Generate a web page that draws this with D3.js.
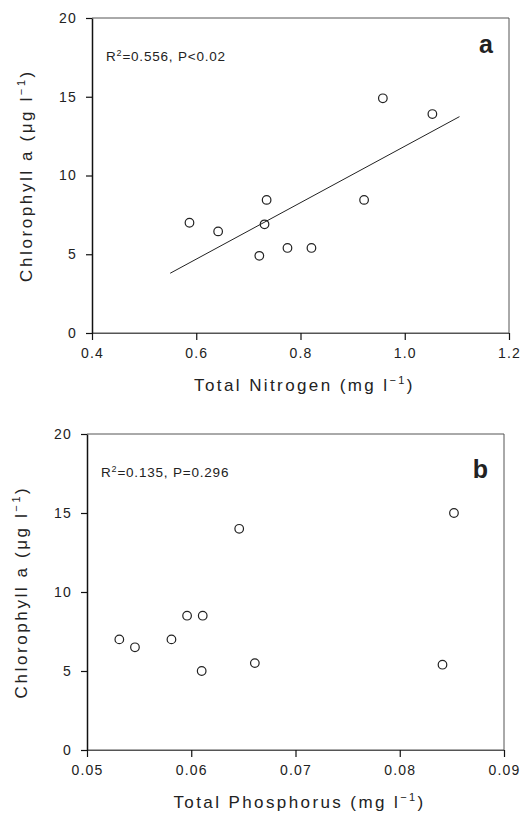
<!DOCTYPE html>
<html>
<head>
<meta charset="utf-8">
<script src="https://cdn.jsdelivr.net/npm/d3@7"></script>
<style>
  body { margin: 0; background: #fff; }
  svg text { font-family: "Liberation Sans", Arial, sans-serif; fill: #222; }
</style>
</head>
<body>
<svg id="chart" width="523" height="820"></svg>
<script>
// chlorophyll a (ug/l) per site, same sites in both panels
chlN = [7.0, 6.45, 4.9, 6.9, 8.45, 5.4, 5.4, 8.45, 14.9, 13.9];
totalN = [0.587, 0.642, 0.721, 0.731, 0.735, 0.775, 0.821, 0.922, 0.958, 1.053];

chlP = [7.0, 6.5, 7.0, 8.5, 8.5, 5.0, 14.0, 5.5, 5.4, 15.0];
totalP = [0.0531, 0.0546, 0.0581, 0.0596, 0.0611, 0.0610, 0.0646, 0.0661, 0.0841, 0.0852];

nTicks = [0.4, 0.6, 0.8, 1.0, 1.2];
pTicks = [0.05, 0.06, 0.07, 0.08, 0.09];
chlTicks = [0, 5, 10, 15, 20];
fitRangeN = [0.55, 1.105];

svg = d3.select('#chart');

function fitLine(xs, ys) {
    mx = d3.mean(xs); my = d3.mean(ys);
    sxy = d3.sum(xs, (x, i) => (x - mx) * (ys[i] - my));
    sxx = d3.sum(xs, x => (x - mx) * (x - mx));
    slope = sxy / sxx;
    return x => my + slope * (x - mx);
}

function drawPanel(p) {
    g = svg.append('g');
    x = d3.scaleLinear().domain(d3.extent(p.xTicks)).range([p.left, p.right]);
    y = d3.scaleLinear().domain([0, 20]).range([p.bottom, p.top]);

    // frame: top, right, bottom thin grey
    g.append('path')
        .attr('d', `M${p.left},${p.top}H${p.right}V${p.bottom}H${p.left}`)
        .attr('fill', 'none').attr('stroke', '#555').attr('stroke-width', 1);

    yAxis = g.append('g').attr('transform', `translate(${p.left},0)`)
        .call(d3.axisLeft(y).tickValues(chlTicks).tickSize(6).tickSizeOuter(0).tickPadding(9));
    xAxis = g.append('g').attr('transform', `translate(0,${p.bottom})`)
        .call(d3.axisBottom(x).tickValues(p.xTicks).tickSize(7).tickSizeOuter(0).tickPadding(8)
            .tickFormat(p.fmt));

    [yAxis, xAxis].forEach(a => {
        a.select('.domain').attr('stroke', '#111').attr('stroke-width', 1.5);
        a.selectAll('.tick line').attr('stroke', '#111').attr('stroke-width', 1.2);
        a.selectAll('.tick text')
            .attr('fill', '#333')
            .style('font-size', '14px')
            .style('letter-spacing', '1.2px')
            .style('font-family', '"Liberation Sans", Arial, sans-serif');
    });
    xAxis.select('.domain').attr('stroke', '#555').attr('stroke-width', 1);

    if (p.fit) {
        f = fitLine(p.xs, p.ys);
        g.append('line')
            .attr('x1', x(p.fit[0])).attr('y1', y(f(p.fit[0])))
            .attr('x2', x(p.fit[1])).attr('y2', y(f(p.fit[1])))
            .attr('stroke', '#222').attr('stroke-width', 1);
    }

    g.selectAll('.pt')
        .data(p.xs.map((v, i) => [v, p.ys[i]]))
        .join('circle')
        .attr('cx', d => x(d[0]))
        .attr('cy', d => y(d[1]))
        .attr('r', 4.3)
        .attr('fill', 'none')
        .attr('stroke', '#222')
        .attr('stroke-width', 1.2);

    // stats annotation
    st = g.append('text')
        .attr('x', p.left + 14).attr('y', p.top + 43)
        .style('font-size', '13.5px').style('letter-spacing', '0.8px');
    st.append('tspan').text('R');
    st.append('tspan').text('2').attr('dy', -5).style('font-size', '9px');
    st.append('tspan').text(p.stats).attr('dy', 5);

    g.append('text')
        .attr('x', p.right - 16).attr('y', p.top + p.letterDy)
        .attr('text-anchor', 'end')
        .style('font-size', '25px').style('font-weight', 'bold')
        .text(p.letter);

    // x title
    xt = g.append('text')
        .attr('x', (p.left + p.right) / 2 + 4).attr('y', p.bottom + 58)
        .attr('text-anchor', 'middle')
        .style('font-size', '17px').style('letter-spacing', '2.4px');
    xt.append('tspan').text(p.xTitle + ' (mg l');
    xt.append('tspan').text('\u22121').attr('dy', -7).style('font-size', '11px');
    xt.append('tspan').text(')').attr('dy', 7);

    // y title
    yt = g.append('text')
        .attr('transform', `translate(${p.yTitleX},${(p.top + p.bottom) / 2}) rotate(-90)`)
        .attr('text-anchor', 'middle')
        .style('font-size', '17px').style('letter-spacing', '2.6px');
    yt.append('tspan').text('Chlorophyll a (\u03bcg l');
    yt.append('tspan').text('\u22121').attr('dy', -7).style('font-size', '11px');
    yt.append('tspan').text(')').attr('dy', 7);
}

drawPanel({
    xs: totalN, ys: chlN, xTicks: nTicks, fmt: d3.format('.1f'),
    left: 92, right: 509, top: 18, bottom: 333,
    fit: fitRangeN, stats: '=0.556, P<0.02', letter: 'a', letterDy: 35,
    xTitle: 'Total Nitrogen', yTitleX: 32
});

drawPanel({
    xs: totalP, ys: chlP, xTicks: pTicks, fmt: d3.format('.2f'),
    left: 87, right: 504, top: 434, bottom: 750,
    fit: null, stats: '=0.135, P=0.296', letter: 'b', letterDy: 44,
    xTitle: 'Total Phosphorus', yTitleX: 27
});
</script>
</body>
</html>
